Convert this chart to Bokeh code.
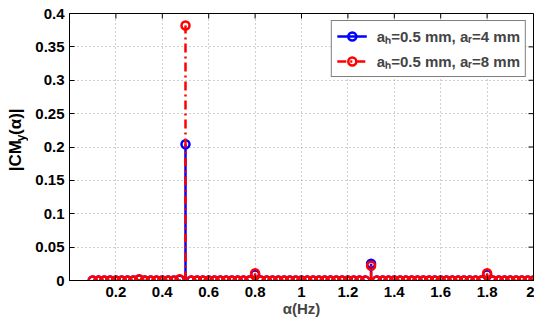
import math
from bokeh.plotting import figure
from bokeh.layouts import row
from bokeh.models import Range1d, FixedTicker, Span, Legend, LegendItem, ColumnDataSource
from bokeh.core.properties import value
from bokeh.embed import file_html
from bokeh.resources import INLINE

# cyclic frequencies (Hz)
freq = [0.1, 0.125, 0.15, 0.175, 0.2, 0.225, 0.25, 0.275, 0.3, 0.325, 0.35, 0.375,
        0.4, 0.425, 0.45, 0.475, 0.5, 0.525, 0.55, 0.575, 0.6, 0.625, 0.65, 0.675,
        0.7, 0.725, 0.75, 0.775, 0.8, 0.825, 0.85, 0.875, 0.9, 0.925, 0.95, 0.975,
        1.0, 1.025, 1.05, 1.075, 1.1, 1.125, 1.15, 1.175, 1.2, 1.225, 1.25, 1.275,
        1.3, 1.325, 1.35, 1.375, 1.4, 1.425, 1.45, 1.475, 1.5, 1.525, 1.55, 1.575,
        1.6, 1.625, 1.65, 1.675, 1.7, 1.725, 1.75, 1.775, 1.8, 1.825, 1.85, 1.875,
        1.9, 1.925, 1.95, 1.975, 2.0]
peak_freq = [0.3, 0.475, 0.5, 0.8, 1.3, 1.8]
peak_ar4 = [0.0015, 0.001, 0.204, 0.009, 0.025, 0.009]
peak_ar8 = [0.002, 0.002, 0.382, 0.011, 0.022, 0.011]

label_ar4 = "aₕ=0.5 mm, aᵣ=4 mm"
label_ar8 = "aₕ=0.5 mm, aᵣ=8 mm"
x_title = "α(Hz)"
y_title_parts = ["|CM", "y", "(α)|"]   # |CM_y(α)|, middle part is a subscript
x_ticks = [0.2, 0.4, 0.6, 0.8, 1.0, 1.2, 1.4, 1.6, 1.8, 2.0]
x_tick_labels = ["0.2", "0.4", "0.6", "0.8", "1", "1.2", "1.4", "1.6", "1.8", "2"]
y_ticks = [0, 0.05, 0.1, 0.15, 0.2, 0.25, 0.3, 0.35, 0.4]
y_tick_labels = ["0", "0.05", "0.1", "0.15", "0.2", "0.25", "0.3", "0.35", "0.4"]
x_min, x_max = 0, 2
y_min, y_max = 0, 0.4


def series(peaks):
    lookup = dict(zip(peak_freq, peaks))
    return [lookup.get(f, 0.0) for f in freq]


ar4 = series(peak_ar4)
ar8 = series(peak_ar8)
zeros = [0.0] * len(freq)

FONT = "Liberation Sans"
W, H = 534, 320
LW = 28                      # width of the strip holding the rotated y title
MW = W - LW
BL, BR, BT, BB = 69 - LW, 1, 13, 40
FW, FH = MW - BL - BR, H - BT - BB

# ---- strip with the rotated y-axis title (pixel coordinates, y up) ----
lab = figure(width=LW, height=H, output_backend="svg", toolbar_location=None,
             x_range=Range1d(0, LW), y_range=Range1d(0, H),
             x_axis_location=None, y_axis_location=None,
             min_border=0, min_border_left=0, min_border_right=0, min_border_top=0, min_border_bottom=0)
lab.outline_line_color = None
lab.xgrid.visible = False
lab.ygrid.visible = False
lab.background_fill_color = "white"
lab.border_fill_color = "white"
lab.text(x=[15, 20, 15], y=[131, 167, 174.5], text=y_title_parts, angle=math.pi / 2,
         text_font=value(FONT), text_font_style="bold", text_font_size=["17px", "12px", "17px"],
         text_align="left", text_baseline="middle", text_color="black")

# ---- main plot ----
p = figure(width=MW, height=H, output_backend="svg", toolbar_location=None,
           x_range=Range1d(x_min, x_max), y_range=Range1d(y_min, y_max),
           min_border_left=BL, min_border_right=BR, min_border_top=BT, min_border_bottom=BB)
p.outline_line_color = "black"
p.outline_line_width = 1
p.background_fill_color = "white"
p.border_fill_color = "white"

for ax, ticks, labels in ((p.xaxis[0], x_ticks, x_tick_labels), (p.yaxis[0], y_ticks, y_tick_labels)):
    ax.ticker = FixedTicker(ticks=ticks)
    ax.major_label_overrides = {t: l for t, l in zip(ticks, labels)}
    ax.major_tick_in = 5
    ax.major_tick_out = 0
    ax.minor_tick_line_color = None
    ax.major_label_text_font = FONT
    ax.major_label_text_font_style = "bold"
    ax.major_label_text_font_size = "15px"
    ax.major_label_text_color = "black"
    ax.axis_line_color = "black"
    ax.major_tick_line_color = "black"

p.xaxis.major_label_standoff = 6
p.yaxis.major_label_standoff = 5
p.xaxis.axis_label = x_title
p.xaxis.axis_label_text_font = FONT
p.xaxis.axis_label_text_font_style = "bold"
p.xaxis.axis_label_text_font_size = "15px"
p.xaxis.axis_label_standoff = 0

for g in (p.xgrid[0], p.ygrid[0]):
    g.grid_line_color = "#a0a0a0"
    g.grid_line_dash = "1 3"
    g.grid_line_width = 1
p.xgrid.ticker = FixedTicker(ticks=x_ticks)
p.ygrid.ticker = FixedTicker(ticks=y_ticks)

# mirrored inward ticks on the top and right edges (5 px long)
tick_dx = 5 * (x_max - x_min) / FW
tick_dy = 5 * (y_max - y_min) / FH
p.segment(x0=x_ticks, y0=[y_max] * len(x_ticks), x1=x_ticks, y1=[y_max - tick_dy] * len(x_ticks),
          line_color="black", line_width=1)
p.segment(x0=[x_max] * len(y_ticks), y0=y_ticks, x1=[x_max - tick_dx] * len(y_ticks), y1=y_ticks,
          line_color="black", line_width=1)

p.add_layout(Span(location=0, dimension="width", line_color="black", line_width=1))

src = ColumnDataSource(dict(x=freq, y0=zeros, ar4=ar4, ar8=ar8))
seg4 = p.segment(x0="x", y0="y0", x1="x", y1="ar4", source=src, line_color="#0000ff", line_width=2.5)
dot4 = p.scatter(x="x", y="ar4", source=src, marker="circle", size=8, fill_color=None,
                 line_color="#0000ff", line_width=2.5)
seg8 = p.segment(x0="x", y0="y0", x1="x", y1="ar8", source=src, line_color="#ff0000", line_width=2.5,
                 line_dash="9 4 2 4")
dot8 = p.scatter(x="x", y="ar8", source=src, marker="circle", size=8, fill_color=None,
                 line_color="#ff0000", line_width=2.5)

legend = Legend(items=[LegendItem(label=label_ar4, renderers=[seg4, dot4]),
                       LegendItem(label=label_ar8, renderers=[seg8, dot8])],
                location="top_right", margin=7, padding=5, spacing=5,
                glyph_width=30, glyph_height=20, label_standoff=10,
                label_text_font=FONT, label_text_font_style="bold", label_text_font_size="15px",
                border_line_color="black", border_line_width=1, background_fill_alpha=1)
p.add_layout(legend)

layout = row(lab, p, spacing=0)
open("out.html", "w").write(file_html(layout, INLINE))
